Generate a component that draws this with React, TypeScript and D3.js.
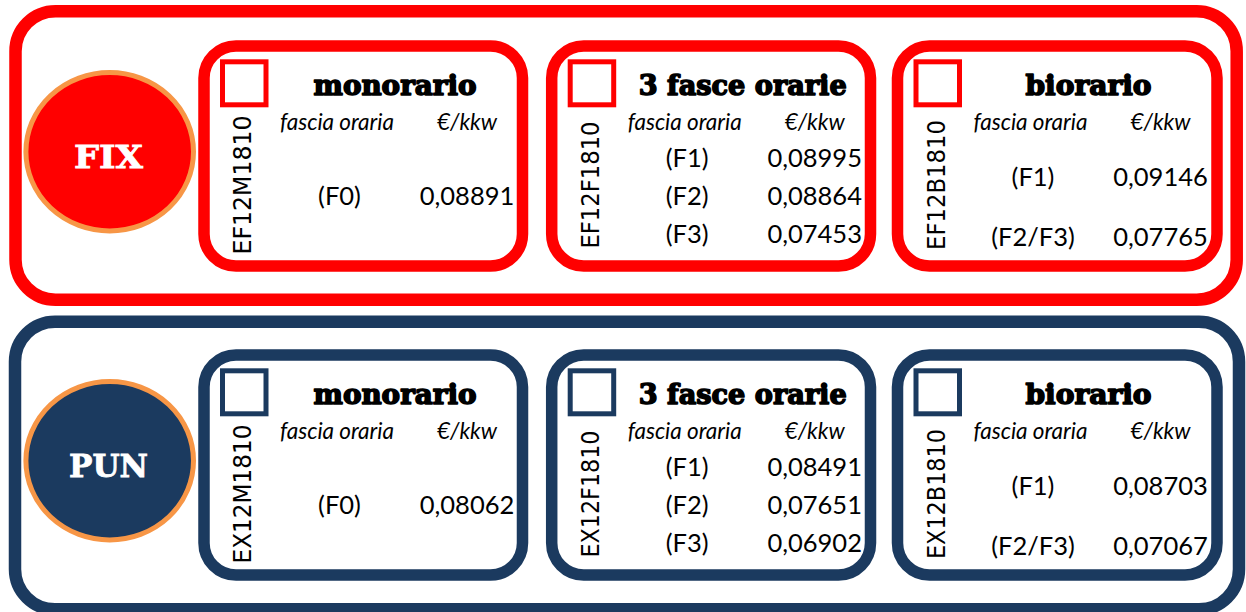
import React from "react";
import * as d3 from "d3";

// ---------- data ----------
const sections = ["FIX", "PUN"];
const tariffTitles = ["monorario", "3 fasce orarie", "biorario"];
const headerLabels = ["fascia oraria", "€/kkw"];
const fixCodes = ["EF12M1810", "EF12F1810", "EF12B1810"];
const punCodes = ["EX12M1810", "EX12F1810", "EX12B1810"];
const monoBands = ["(F0)"];
const threeBands = ["(F1)", "(F2)", "(F3)"];
const bioBands = ["(F1)", "(F2/F3)"];
const fixMono = [0.08891];
const fixThree = [0.08995, 0.08864, 0.07453];
const fixBio = [0.09146, 0.07765];
const punMono = [0.08062];
const punThree = [0.08491, 0.07651, 0.06902];
const punBio = [0.08703, 0.07067];

// ---------- layout / style ----------
const W = 1246;
const H = 612;
const sectionColor = d3.scaleOrdinal<string, string>().domain(sections).range(["#FF0000", "#1B3A5F"]);
const sectionOffset = d3.scaleOrdinal<string, number>().domain(sections).range([0, 309]);
const outerBoxes = [
  { x: 15.5, y: 11.2, w: 1221.2, h: 288.5 },
  { x: 15, y: 321.7, w: 1224, h: 287.6 },
];
const panelX = d3.scaleOrdinal<string, number>().domain(tariffTitles).range([204, 551.7, 897.5]);
const panelW = [318.5, 318.8, 319.5];
const rowRanges: [number, number][] = [
  [205, 205],
  [166.7, 243.3],
  [186, 245.7],
];
const titleLengths = [163, 208, 126];
const codeLengths = [139, 127, 130];
const circleTextLengths = [69, 79];

const itLocale = d3.formatLocale({ decimal: ",", thousands: ".", grouping: [3], currency: ["€", ""] });
const fmt = itLocale.format(".5f");

const bodyFont = "Lato, 'Open Sans', sans-serif";
const titleFont = "'DejaVu Serif', serif";

function Panel({ section, ti, codes, bands, values }: any) {
  const color = sectionColor(section);
  const dy = sectionOffset(section);
  const x0 = panelX(tariffTitles[ti]);
  const w = panelW[ti];
  const y0 = 46 + dy;
  const h = 220;
  const col = d3.scalePoint<string>().domain(["label", "value"]).range([x0 + 135.5, x0 + 263]);
  const row = d3
    .scalePoint<string>()
    .domain(bands)
    .range([rowRanges[ti][0] + dy, rowRanges[ti][1] + dy]);
  const codeCy = 185 + dy;
  return (
    <g>
      <rect x={x0} y={y0} width={w} height={h} rx={32} ry={32} fill="#fff" stroke={color} strokeWidth={11.5} />
      <rect x={x0 + 18.5} y={61.8 + dy} width={43.5} height={43} fill="#fff" stroke={color} strokeWidth={5} />
      <text
        x={x0 + 191}
        y={95 + dy}
        textAnchor="middle"
        fontFamily={titleFont}
        fontWeight={900}
        fontSize={28}
        stroke="#000"
        strokeWidth={1.6}
        strokeLinejoin="round"
        textLength={titleLengths[ti]}
        lengthAdjust="spacingAndGlyphs"
      >
        {tariffTitles[ti]}
      </text>
      <text
        transform={`translate(${x0 + 47},${codeCy}) rotate(-90)`}
        textAnchor="middle"
        fontFamily="'DejaVu Sans', sans-serif"
        fontSize={25}
        textLength={codeLengths[ti]}
        lengthAdjust="spacingAndGlyphs"
      >
        {codes[ti]}
      </text>
      <text x={x0 + 133} y={130 + dy} textAnchor="middle" fontFamily={bodyFont} fontStyle="italic" fontSize={22.5}>
        {headerLabels[0]}
      </text>
      <text x={x0 + 263} y={130 + dy} textAnchor="middle" fontFamily={bodyFont} fontStyle="italic" fontSize={22.5}>
        {headerLabels[1]}
      </text>
      {bands.map((b: string, i: number) => (
        <g key={b}>
          <text x={col("label")} y={row(b)} textAnchor="middle" fontFamily={bodyFont} fontSize={25.5}>
            {b}
          </text>
          <text x={col("value")} y={row(b)} textAnchor="middle" fontFamily={bodyFont} fontSize={25.5}>
            {fmt(values[i])}
          </text>
        </g>
      ))}
    </g>
  );
}

export default function App() {
  const data = [
    { section: "FIX", codes: fixCodes, values: [fixMono, fixThree, fixBio] },
    { section: "PUN", codes: punCodes, values: [punMono, punThree, punBio] },
  ];
  const bandSets = [monoBands, threeBands, bioBands];
  return (
    <svg
      width={W}
      height={H}
      viewBox={`0 0 ${W} ${H}`}
      style={{ position: "absolute", left: 0, top: 0, background: "#fff" }}
    >
      <rect x={0} y={0} width={W} height={H} fill="#fff" />
      {data.map((d, si) => {
        const color = sectionColor(d.section);
        const dy = sectionOffset(d.section);
        const ob = outerBoxes[si];
        return (
          <g key={d.section}>
            <rect x={ob.x} y={ob.y} width={ob.w} height={ob.h} rx={40} ry={40} fill="none" stroke={color} strokeWidth={12.5} />
            <ellipse cx={109.7} cy={151.7 + dy} rx={83.8} ry={79.2} fill={color} stroke="#F79646" strokeWidth={5} />
            <text
              x={108.5}
              y={167.7 + dy + (si === 1 ? 0.5 : 0)}
              textAnchor="middle"
              fontFamily={titleFont}
              fontWeight={900}
              fontSize={32}
              fill="#fff"
              stroke="#fff"
              strokeWidth={0.8}
              textLength={circleTextLengths[si]}
              lengthAdjust="spacingAndGlyphs"
            >
              {d.section}
            </text>
            {tariffTitles.map((t, ti) => (
              <Panel key={t} section={d.section} ti={ti} codes={d.codes} bands={bandSets[ti]} values={d.values[ti]} />
            ))}
          </g>
        );
      })}
    </svg>
  );
}
